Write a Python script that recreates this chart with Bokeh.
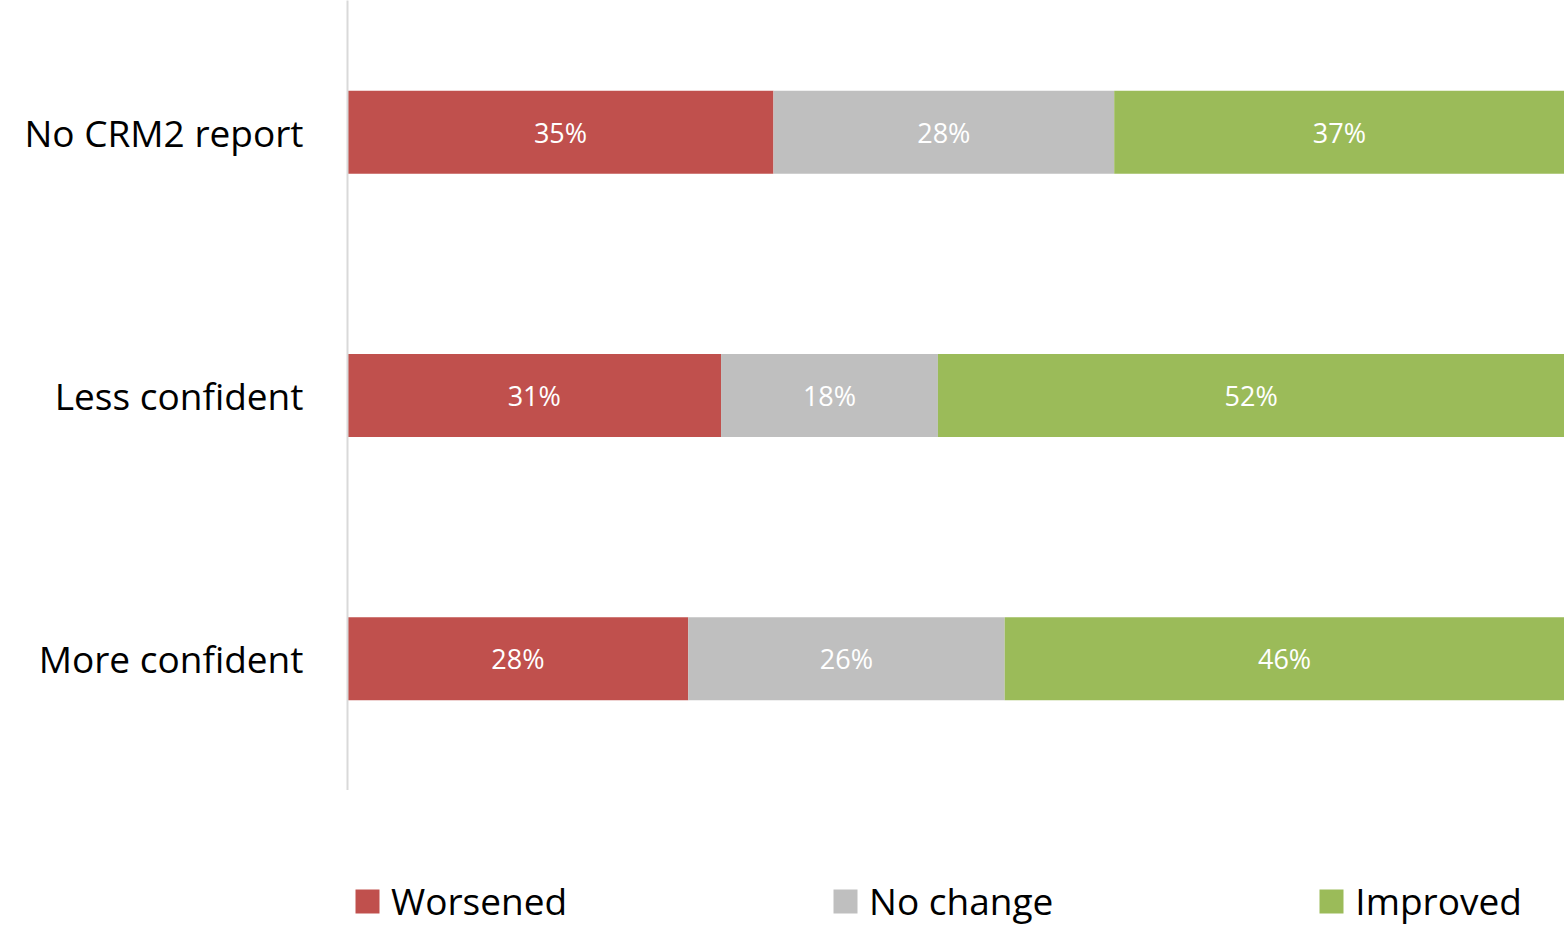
from bokeh.plotting import figure
from bokeh.layouts import column
from bokeh.models import ColumnDataSource, Range1d, Legend, LegendItem, LabelSet
from bokeh.core.properties import value
from bokeh.embed import file_html
from bokeh.resources import INLINE

# Survey results: change in outcome, by confidence group
categories = ["No CRM2 report", "Less confident", "More confident"]
series = ["Worsened", "No change", "Improved"]
worsened = [35, 31, 28]
no_change = [28, 18, 26]
improved = [37, 52, 46]
colors = ["#C0504D", "#BFBFBF", "#9BBB59"]

FONT = "Open Sans"

# 100% stacked: each row is scaled to its own total
raw = {"Worsened": worsened, "No change": no_change, "Improved": improved}
totals = [sum(t) for t in zip(worsened, no_change, improved)]
data = {"cat": categories}
for s in series:
    data[s] = [v / t * 100 for v, t in zip(raw[s], totals)]
source = ColumnDataSource(data)

p = figure(
    width=1564, height=790,
    y_range=list(reversed(categories)),
    x_range=Range1d(0, 100),
    output_backend="svg", toolbar_location=None,
    min_border_left=347, min_border_right=0, min_border_top=0, min_border_bottom=0,
)
p.outline_line_color = None
p.background_fill_color = "white"
p.border_fill_color = "white"

p.hbar_stack(series, y="cat", height=0.315, color=colors, source=source, line_color=None)

# value labels centred in each segment
lx, ly, lt = [], [], []
for i, c in enumerate(categories):
    left = 0.0
    for s in series:
        w = data[s][i]
        lx.append(left + w / 2)
        ly.append(c)
        lt.append(f"{raw[s][i]}%")
        left += w
lab_src = ColumnDataSource(dict(x=lx, y=ly, t=lt))
p.add_layout(LabelSet(x="x", y="y", text="t", source=lab_src,
                      text_color="white", text_font=value(FONT), text_font_size="27px",
                      text_align="center", text_baseline="middle"))

p.xaxis.visible = False
p.xgrid.visible = False
p.ygrid.visible = False
yax = p.yaxis[0]
yax.axis_line_color = "#D9D9D9"
yax.axis_line_width = 2
yax.major_tick_line_color = None
yax.minor_tick_line_color = None
yax.major_label_text_font = FONT
yax.major_label_text_font_size = "37px"
yax.major_label_text_color = "black"
yax.major_label_standoff = 38

# legend strip under the chart (its frame lines up with the chart's frame)
leg = figure(
    width=1564, height=136, x_range=Range1d(0, 1), y_range=Range1d(0, 1),
    output_backend="svg", toolbar_location=None,
    min_border_left=347, min_border_right=0, min_border_top=0, min_border_bottom=0,
)
leg.outline_line_color = None
leg.axis.visible = False
leg.grid.visible = False
# key swatches: one zero-width bar each, parked below the visible range
keys = [leg.hbar(y=[-5], left=[0], right=[0], height=1, fill_color=c, line_color=None)
        for c in colors]

legend = Legend(
    items=[LegendItem(label=s, renderers=[r]) for s, r in zip(series, keys)],
    orientation="horizontal", location=(5, 0),
    label_text_font=FONT, label_text_font_size="37px", label_text_color="black",
    glyph_width=30, glyph_height=30, label_standoff=9, spacing=263,
    border_line_color=None, background_fill_alpha=0, margin=0, padding=0,
)
leg.add_layout(legend)

layout = column(p, leg, spacing=0)
open("out.html", "w").write(file_html(layout, INLINE))
